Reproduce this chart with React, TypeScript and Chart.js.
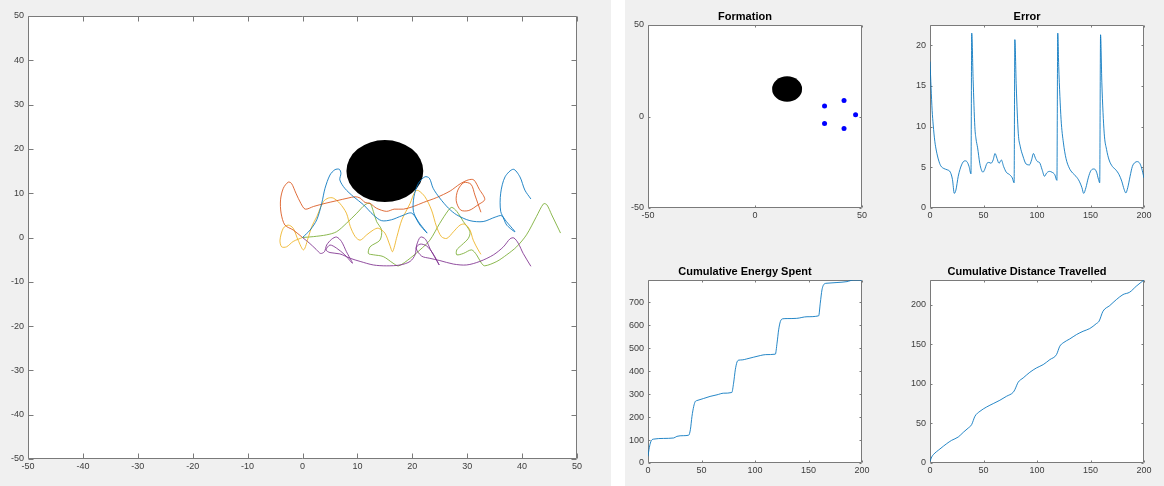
import React, { useEffect, useRef } from 'react';
import { Chart, registerables } from 'chart.js';

Chart.register(...registerables);

// ---------------- data ----------------
const obstacleCenter: [number, number] = [15, 15];
const obstacleRadius = 7;

const blueTrack: [number, number][] = [[0,0],[1.4,1.7],[2.6,4.0],[3.5,7.7],[4.1,11.1],[5.0,14.1],[5.9,15.3],[6.7,15.4],[7.0,14.5],[6.8,13.0],[7.7,11.1],[9.3,9.2],[11.1,7.4],[12.9,5.1],[14.4,3.8],[16.2,4.0],[18.1,4.9],[19.9,5.5],[21.4,2.8],[22.7,1.0],[21.1,3.6],[20.2,5.9],[20.3,9.2],[21.1,12.2],[22.3,13.7],[23.1,13.4],[23.8,11.1],[25.0,8.9],[26.6,6.6],[28.1,5.1],[30.5,3.8],[32.9,3.6],[35.1,4.6],[36.3,4.9],[37.2,2.8],[38.7,1.3],[36.9,4.0],[36.1,5.9],[36.1,10.0],[36.9,13.7],[38.4,15.4],[39.6,13.7],[40.5,10.7],[41.6,8.7]];
const orangeTrack: [number, number][] = [[0,0],[-1.7,1.7],[-3.2,2.8],[-3.9,5.5],[-4.0,8.5],[-3.5,11.1],[-2.6,12.5],[-2.0,12.2],[-1.2,10.0],[-0.3,7.7],[0.5,6.4],[2.0,7.0],[4.1,7.7],[6.2,8.3],[8.3,8.9],[9.6,9.2],[10.5,8.9],[11.4,7.9],[12.3,7.7],[13.5,6.6],[15.3,5.9],[16.7,6.4],[18.4,6.4],[20.2,7.0],[22.0,7.9],[24.4,9.0],[26.9,10.5],[28.7,12.1],[30.2,13.0],[31.2,13.0],[32.2,10.9],[33.2,8.6],[32.0,7.4],[30.3,6.1],[28.8,6.2],[28.0,8.3],[28.3,10.7],[29.4,12.4],[30.7,12.0],[31.4,9.6],[32.5,5.7]];
const yellowTrack: [number, number][] = [[0,0],[-1.7,-0.9],[-2.9,-2.1],[-3.8,-2.1],[-4.1,-0.6],[-3.5,2.1],[-2.6,2.8],[-1.7,2.1],[-0.8,-0.6],[0.2,-2.8],[1.1,0.2],[1.7,2.5],[2.6,4.7],[3.8,8.1],[4.7,8.9],[5.6,8.9],[6.8,7.7],[8.0,5.5],[8.7,2.5],[9.6,0.2],[10.5,-0.6],[11.7,0.6],[12.9,1.7],[13.8,2.1],[15.0,1.0],[15.9,-1.7],[16.4,-3.2],[17.2,0.2],[18.1,4.0],[19.6,7.7],[20.5,10.4],[21.1,10.6],[22.3,9.2],[23.5,6.2],[24.4,2.5],[25.3,0.2],[26.3,-0.2],[27.5,1.3],[28.7,2.8],[29.6,3.0],[30.5,1.7],[31.1,-0.6],[32.0,-2.8],[32.5,-3.8]];
const purpleTrack: [number, number][] = [[0,0],[1.2,-1.2],[2.5,-2.7],[3.3,-3.6],[4.0,-3.2],[4.4,-1.7],[5.3,-0.4],[6.2,0.1],[7.1,-0.9],[8.0,-3.2],[9.1,-5.8],[7.7,-3.9],[6.2,-2.4],[5.0,-1.7],[4.3,-2.8],[5.0,-3.4],[6.8,-3.7],[8.7,-4.7],[10.5,-5.4],[12.9,-6.2],[15.3,-6.4],[17.8,-6.2],[19.6,-5.4],[20.5,-3.9],[20.8,-1.7],[21.5,0.1],[22.4,-0.4],[23.3,-2.7],[24.3,-4.9],[24.9,-6.2],[23.8,-3.7],[22.6,-1.9],[21.4,-1.5],[20.7,-2.4],[21.7,-4.2],[23.2,-4.7],[25.0,-5.2],[27.5,-6.0],[29.9,-6.2],[32.3,-5.4],[34.8,-3.9],[36.6,-2.1],[37.8,-0.3],[38.5,-0.1],[39.3,-1.3],[40.2,-3.6],[41.6,-6.5]];
const greenTrack: [number, number][] = [[0,0],[2.0,0.2],[4.4,0.6],[6.2,1.3],[8.0,3.2],[9.9,5.5],[11.4,7.4],[12.3,7.7],[12.9,5.9],[13.5,3.6],[14.4,1.7],[14.1,-0.6],[12.3,-2.1],[12.0,-3.6],[12.9,-3.9],[14.7,-4.3],[16.5,-5.8],[17.5,-6.4],[19.6,-4.7],[21.4,-2.8],[23.2,-0.6],[25.0,3.2],[26.6,6.2],[27.2,6.8],[28.1,5.9],[29.3,3.6],[30.5,1.3],[30.2,-0.2],[29.0,-1.7],[28.1,-2.8],[28.1,-3.9],[29.3,-3.6],[30.8,-2.8],[31.7,-3.9],[32.6,-5.8],[33.2,-6.4],[35.4,-5.4],[37.2,-3.9],[39.0,-2.1],[40.8,0.6],[42.6,4.7],[43.9,7.6],[44.5,7.4],[45.4,5.1],[46.3,2.8],[47.0,1.0]];

const formationPoints: [number, number][] = [[41.6,8.7],[32.5,5.7],[32.5,-3.8],[41.6,-6.5],[47.0,1.0]];

const errorSeries: [number, number][] = [[0,18.0],[1,14.8],[2,12.0],[3,10.2],[4.5,8.2],[6,7.0],[8,5.9],[10,5.2],[13,4.85],[16,4.7],[19,4.4],[21,3.5],[22.7,1.8],[24.2,2.2],[26.4,3.9],[29.5,5.3],[32.5,5.8],[34.5,5.7],[36.5,5.1],[38.3,4.2],[39,21.5],[40.3,15.8],[41.9,10.0],[43,8.5],[44.5,7.4],[46.5,5.5],[48,4.7],[49.5,4.4],[51,4.7],[53.3,5.5],[55.2,5.6],[57,5.5],[59,5.9],[60.8,6.7],[62.6,6.1],[64.5,5.5],[66.7,5.9],[68.8,5.1],[71.3,4.4],[74.4,4.1],[76.9,3.7],[78.6,3.1],[79.3,20.7],[80.6,15.0],[82.5,9.2],[84.3,7.6],[86.8,6.4],[89.9,5.4],[93,5.3],[94.9,5.9],[96.7,6.7],[98.6,6.1],[100.5,5.7],[102.3,5.6],[104.8,4.7],[107,3.9],[109,4.3],[111.6,4.5],[114,4.4],[116.6,4.1],[118.6,3.4],[119.4,21.5],[120.3,17.4],[122.5,10.9],[124.7,8.0],[127.1,6.1],[130.2,4.9],[133.3,4.3],[136.4,3.9],[139.5,3.3],[142,2.5],[143.6,1.8],[145.7,2.5],[147.9,3.7],[150.4,4.6],[153.5,4.8],[155.7,4.4],[157.5,3.5],[158.6,3.1],[159.4,21.3],[160.6,15.4],[162.8,9.2],[165,7.2],[167.4,5.9],[170.5,5.1],[173.6,4.7],[176.7,4.1],[179.2,3.3],[181.4,2.3],[183,1.85],[184.8,2.5],[187,3.9],[189.1,5.1],[191.6,5.6],[193.8,5.7],[196,5.5],[197.8,4.9],[200,3.7]];

const energySeries: [number, number][] = [[0,29],[0.9,58],[2.2,87],[3.7,101],[5.3,104],[14.6,107],[24,109],[27,116],[33,119],[38,121],[39.6,145],[41.1,203],[42.7,246],[44.2,268],[45.8,272],[52,281],[58,290],[64.5,297],[70.7,304],[78.3,307],[80,348],[81.6,406],[83.2,440],[85,448],[88,449],[92,453],[98.8,461],[105,468],[110,472],[119,474],[120.6,522],[122.1,580],[123.7,616],[125.9,628],[130,629],[139,630],[148.6,637],[159.5,641],[161,696],[162.6,754],[164.8,780],[167.3,783],[176.6,786],[186,790],[192,797],[200,797]];

const distanceSeries: [number, number][] = [[0,2],[1.6,7.6],[3.1,10.5],[9.3,17.7],[15.6,24.4],[20.2,28.6],[26.4,32.8],[31.1,38.7],[35.8,44.2],[38.9,48.4],[42,59],[46.7,65.3],[52.9,70.7],[59.1,75],[65.3,79.2],[71.5,84.2],[77.8,89.3],[79.3,92.6],[82.4,101.9],[87.1,107.4],[93.3,114.5],[99.5,120],[105.8,124.2],[112,130.5],[118.2,136.8],[121.3,147.4],[124.4,151.6],[130.6,156.6],[136.9,162.1],[143.1,166.3],[149.3,169.7],[155.5,176],[158,179],[161.7,191.6],[168,198.7],[174.2,206.3],[180.4,212.6],[186.6,215.6],[192.8,223.2],[200,231]];

const mainTicks = [-50, -40, -30, -20, -10, 0, 10, 20, 30, 40, 50];
const formationTicks = [-50, 0, 50];
const timeTicks = [0, 50, 100, 150, 200];
const errorTicks = [0, 5, 10, 15, 20];
const energyTicks = [0, 100, 200, 300, 400, 500, 600, 700];
const distanceTicks = [0, 50, 100, 150, 200];

const trackColors = ['rgba(0,114,189,0.85)', 'rgba(217,83,25,0.85)', 'rgba(237,177,32,0.85)', 'rgba(126,47,142,0.85)', 'rgba(119,172,48,0.85)'];

// ---------------- styling ----------------
const FONT = "'Liberation Sans', Arial, sans-serif";
const TICK_COLOR = '#3c3c3c';
const BOX_COLOR = '#7a7a7a';
const LINE_BLUE = 'rgba(0,114,189,0.85)';

// ---------------- plugins ----------------
const whiteArea = {
  id: 'whiteArea',
  beforeDraw(chart: any) {
    const { ctx, chartArea: a } = chart;
    ctx.save();
    ctx.fillStyle = '#ffffff';
    ctx.fillRect(a.left, a.top, a.right - a.left, a.bottom - a.top);
    ctx.restore();
  },
};

const obstacle = {
  id: 'obstacle',
  beforeDatasetsDraw(chart: any) {
    const { ctx, scales: { x, y } } = chart;
    const cx = x.getPixelForValue(obstacleCenter[0]);
    const cy = y.getPixelForValue(obstacleCenter[1]);
    const rx = Math.abs(x.getPixelForValue(obstacleCenter[0] + obstacleRadius) - cx);
    const ry = Math.abs(y.getPixelForValue(obstacleCenter[1] + obstacleRadius) - cy);
    ctx.save();
    ctx.fillStyle = '#000000';
    ctx.beginPath();
    ctx.ellipse(cx, cy, rx, ry, 0, 0, Math.PI * 2);
    ctx.fill();
    ctx.restore();
  },
};

// axes box + inward ticks, drawn beneath the data (MATLAB default layer)
const matlabBox = {
  id: 'matlabBox',
  beforeDatasetsDraw(chart: any, _args: any, opts: any) {
    const { ctx, chartArea: a, scales } = chart;
    const tl = opts.tickLen || 3;
    ctx.save();
    ctx.strokeStyle = BOX_COLOR;
    ctx.lineWidth = 1;
    const L = Math.round(a.left) + 0.5;
    const R = Math.round(a.right) - 0.5;
    const T = Math.round(a.top) + 0.5;
    const B = Math.round(a.bottom) - 0.5;
    ctx.beginPath();
    ctx.rect(L, T, R - L, B - T);
    scales.x.ticks.forEach((t: any) => {
      const p = Math.round(scales.x.getPixelForValue(t.value)) + 0.5;
      ctx.moveTo(p, B); ctx.lineTo(p, B - tl);
      ctx.moveTo(p, T); ctx.lineTo(p, T + tl);
    });
    scales.y.ticks.forEach((t: any) => {
      const p = Math.round(scales.y.getPixelForValue(t.value)) + 0.5;
      ctx.moveTo(L, p); ctx.lineTo(L + tl, p);
      ctx.moveTo(R, p); ctx.lineTo(R - tl, p);
    });
    ctx.stroke();
    ctx.restore();
  },
};

type Spec = {
  xMin: number; xMax: number; yMin: number; yMax: number;
  xTicks: number[]; yTicks: number[];
  padding: { left: number; top: number; right: number; bottom: number };
  yw: number; xh: number; tickLen: number; title?: string;
};

function axis(min: number, max: number, ticks: number[], pad: number, fit: (s: any) => void) {
  return {
    type: 'linear',
    min, max,
    grid: { display: false, drawTicks: false },
    border: { display: false },
    ticks: {
      color: TICK_COLOR,
      font: { family: FONT, size: 9 },
      padding: pad,
      autoSkip: false,
      maxRotation: 0,
      minRotation: 0,
      callback: (v: any) => String(v),
    },
    afterBuildTicks: (s: any) => { s.ticks = ticks.map((v) => ({ value: v })); },
    afterFit: fit,
  };
}

function makeOptions(s: Spec) {
  return {
    animation: false,
    responsive: false,
    maintainAspectRatio: false,
    devicePixelRatio: 1,
    events: [],
    layout: { padding: s.padding },
    plugins: {
      legend: { display: false },
      tooltip: { enabled: false },
      title: s.title
        ? {
            display: true,
            text: s.title,
            color: '#000000',
            font: { family: FONT, size: 11, weight: 'bold', lineHeight: '13px' },
            padding: { top: 0, bottom: 2 },
          }
        : { display: false },
      matlabBox: { tickLen: s.tickLen },
    },
    scales: {
      x: axis(s.xMin, s.xMax, s.xTicks, 2, (sc: any) => { sc.height = s.xh; }),
      y: axis(s.yMin, s.yMax, s.yTicks, 4, (sc: any) => { sc.width = s.yw; }),
    },
  };
}

const toPts = (arr: [number, number][]) => arr.map(([x, y]) => ({ x, y }));

function lineSet(arr: [number, number][], color: string, tension: number, mono: boolean) {
  return {
    data: toPts(arr),
    showLine: true,
    borderColor: color,
    backgroundColor: color,
    borderWidth: 1,
    pointRadius: 0,
    fill: false,
    tension,
    cubicInterpolationMode: mono ? 'monotone' : 'default',
  };
}

// ---------------- chart builders ----------------
function buildMain() {
  const tracks = [blueTrack, orangeTrack, yellowTrack, purpleTrack, greenTrack];
  return {
    type: 'scatter',
    data: { datasets: tracks.map((t, i) => lineSet(t, trackColors[i], 0.3, false)) },
    options: makeOptions({
      xMin: -50, xMax: 50, yMin: -50, yMax: 50,
      xTicks: mainTicks, yTicks: mainTicks,
      padding: { left: 4, top: 16, right: 34, bottom: 7 },
      yw: 24, xh: 20, tickLen: 5,
    }),
    plugins: [whiteArea, obstacle, matlabBox],
  };
}

function buildFormation() {
  return {
    type: 'scatter',
    data: {
      datasets: [{
        data: toPts(formationPoints),
        pointRadius: 2.5,
        pointBorderWidth: 0,
        backgroundColor: '#0000ff',
        borderColor: '#0000ff',
      }],
    },
    options: makeOptions({
      xMin: -50, xMax: 50, yMin: -50, yMax: 50,
      xTicks: formationTicks, yTicks: formationTicks,
      padding: { left: 3, top: 10, right: 43, bottom: 17 },
      yw: 20, xh: 18, tickLen: 2, title: 'Formation',
    }),
    plugins: [whiteArea, obstacle, matlabBox],
  };
}

function buildSeries(series: [number, number][], yMax: number, yTicks: number[], title: string, pad: { left: number; top: number; right: number; bottom: number }) {
  return {
    type: 'scatter',
    data: { datasets: [lineSet(series, LINE_BLUE, 0, true)] },
    options: makeOptions({
      xMin: 0, xMax: 200, yMin: 0, yMax,
      xTicks: timeTicks, yTicks,
      padding: pad,
      yw: 20, xh: 18, tickLen: 2, title,
    }),
    plugins: [whiteArea, matlabBox],
  };
}

function ChartBox({ left, top, width, height, build }: { left: number; top: number; width: number; height: number; build: () => any }) {
  const ref = useRef<HTMLCanvasElement>(null);
  useEffect(() => {
    const chart = new Chart(ref.current as HTMLCanvasElement, build());
    return () => chart.destroy();
  }, []);
  return (
    <canvas
      ref={ref}
      width={width}
      height={height}
      style={{ position: 'absolute', left, top, width, height }}
    />
  );
}

export default function App() {
  return (
    <div style={{ position: 'absolute', left: 0, top: 0, width: 1164, height: 486, background: '#ffffff', overflow: 'hidden' }}>
      <div style={{ position: 'absolute', left: 0, top: 0, width: 611, height: 486, background: '#f0f0f0' }} />
      <div style={{ position: 'absolute', left: 625, top: 0, width: 539, height: 486, background: '#f0f0f0' }} />
      <ChartBox left={0} top={0} width={611} height={486} build={buildMain} />
      <ChartBox left={625} top={0} width={280} height={243} build={buildFormation} />
      <ChartBox left={905} top={0} width={259} height={243}
        build={() => buildSeries(errorSeries, 22.5, errorTicks, 'Error', { left: 5, top: 10, right: 20, bottom: 17 })} />
      <ChartBox left={625} top={243} width={280} height={243}
        build={() => buildSeries(energySeries, 797, energyTicks, 'Cumulative Energy Spent', { left: 3, top: 22, right: 43, bottom: 5 })} />
      <ChartBox left={905} top={243} width={259} height={243}
        build={() => buildSeries(distanceSeries, 231, distanceTicks, 'Cumulative Distance Travelled', { left: 5, top: 22, right: 20, bottom: 5 })} />
    </div>
  );
}
